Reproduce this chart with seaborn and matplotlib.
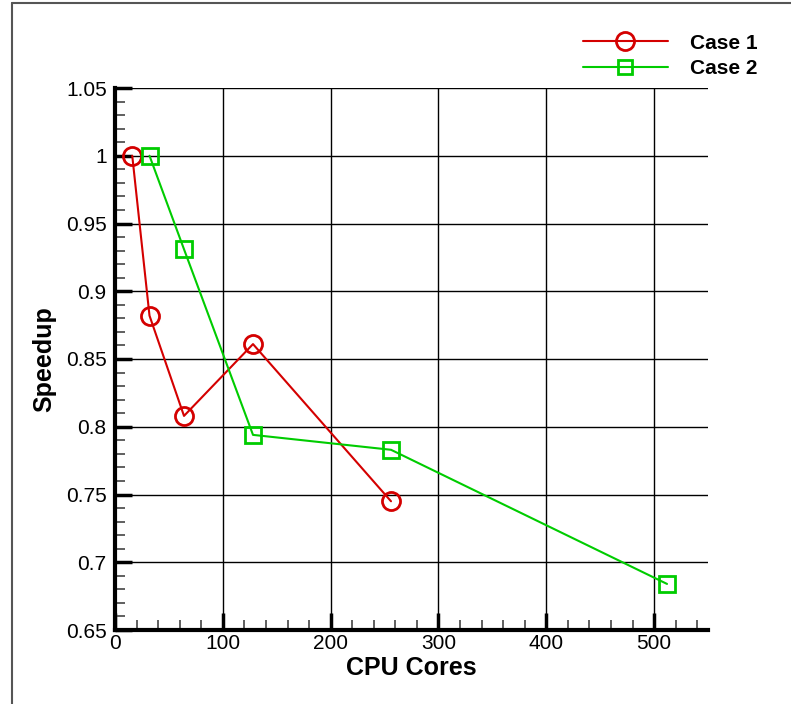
import matplotlib
matplotlib.use("Agg")
import matplotlib.pyplot as plt
import seaborn as sns
import pandas as pd
from matplotlib.lines import Line2D
from matplotlib.ticker import MultipleLocator, FuncFormatter

case1_cores = [16, 32, 64, 128, 256]
case1_speedup = [1.0, 0.882, 0.808, 0.861, 0.745]
case2_cores = [32, 64, 128, 256, 512]
case2_speedup = [1.0, 0.931, 0.794, 0.783, 0.684]
series_names = ["Case 1", "Case 2"]

sns.set_theme(style="white")
plt.rcParams["font.family"] = ["Liberation Sans", "DejaVu Sans"]

fig = plt.figure(figsize=(7.91, 7.04), dpi=100)
ax = fig.add_axes([115/791, 1-630/704, (708-115)/791, (630-88)/704])

red = "#d40000"
green = "#00cc00"

df1 = pd.DataFrame({"cores": case1_cores, "speedup": case1_speedup})
df2 = pd.DataFrame({"cores": case2_cores, "speedup": case2_speedup})

sns.lineplot(data=df1, x="cores", y="speedup", ax=ax, color=red, lw=1.5,
             marker="o", markersize=13, mfc="none", mec=red, mew=2, zorder=5)
sns.lineplot(data=df2, x="cores", y="speedup", ax=ax, color=green, lw=1.5,
             marker="s", markersize=11, mfc="none", mec=green, mew=2, zorder=5)

ax.set_xlim(0, 550)
ax.set_ylim(0.65, 1.05)
ax.xaxis.set_major_locator(MultipleLocator(100))
ax.xaxis.set_minor_locator(MultipleLocator(20))
ax.yaxis.set_major_locator(MultipleLocator(0.05))
ax.yaxis.set_minor_locator(MultipleLocator(0.01))
ax.yaxis.set_major_formatter(FuncFormatter(lambda v, p: f"{v:g}"))

ax.grid(True, which="major", color="black", lw=1.0)
for s in ["top", "right"]:
    ax.spines[s].set_visible(False)
for s in ["left", "bottom"]:
    ax.spines[s].set_linewidth(3)
    ax.spines[s].set_color("black")

ax.tick_params(which="major", direction="in", length=12, width=2.5, color="black",
               labelsize=15, labelcolor="black")
ax.tick_params(axis="x", which="major", pad=3)
ax.tick_params(axis="y", which="major", pad=6)
ax.tick_params(which="minor", direction="in", length=7, width=1.2, color="#444444")
ax.tick_params(which="both", left=True, bottom=True)

ax.set_xlabel("CPU Cores", fontsize=18, fontweight="bold", labelpad=2, color="black")
ax.set_ylabel("Speedup", fontsize=18, fontweight="bold", labelpad=7, color="black")

handles = [
    Line2D([], [], color=red, lw=1.5, marker="o", markersize=13, mfc="none", mec=red, mew=2),
    Line2D([], [], color=green, lw=1.5, marker="s", markersize=10, mfc="none", mec=green, mew=2),
]
leg = fig.legend(handles, series_names, loc="upper right", bbox_to_anchor=(772/791, 1-19/704),
                 frameon=False, handlelength=4.1, labelspacing=0.3, borderpad=0.2,
                 prop={"size": 15, "weight": "bold"}, handletextpad=1.05)
for t in leg.get_texts():
    t.set_color("black")

fig.add_artist(Line2D([12/791, 12/791], [0, 1-3/704], transform=fig.transFigure, color="#555555", lw=1.5))
fig.add_artist(Line2D([12/791, 1], [1-3/704, 1-3/704], transform=fig.transFigure, color="#555555", lw=1.5))

fig.savefig("out.png", dpi=100)
